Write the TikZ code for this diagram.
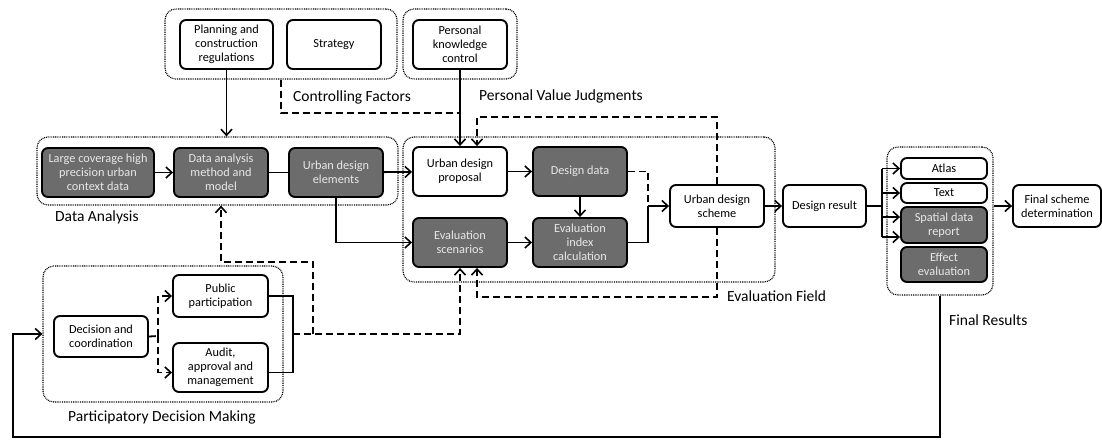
\documentclass[tikz,border=0pt]{standalone}
\usepackage{fontspec}
\setmainfont{Carlito}
\usetikzlibrary{arrows.meta,calc}
\definecolor{boxdark}{RGB}{108,108,108}
\definecolor{boxdarktext}{RGB}{232,232,232}
\tikzset{
  box/.style={draw=black, line width=1.9pt, rounded corners=6pt, align=center,
    inner sep=1pt, font=\fontsize{12.3}{14.2}\selectfont, fill=white},
  darkbox/.style={box, fill=boxdark, text=boxdarktext},
  grp/.style={draw=black, line width=1.2pt, dash pattern=on 0.9pt off 0.9pt,
    rounded corners=11pt},
  lbl/.style={anchor=west, inner sep=0pt, font=\fontsize{15.5}{18}\selectfont},
  tip/.style={-{Straight Barb[length=6pt,width=11pt,line width=1.6pt]}},
  ln/.style={line width=1.8pt},
  ar/.style={ln, tip},
  dsh/.style={line width=1.8pt, dash pattern=on 7pt off 4pt},
  dar/.style={dsh, tip},
}
\newcommand{\bx}[6][box]{\node[#1, minimum width=#4, minimum height=#5] (#2) at #3 {#6};}
\begin{document}
\begin{tikzpicture}[x=1pt,y=-1pt]
\useasboundingbox (0,0) rectangle (1102,439);
\fill[white] (0,0) rectangle (1102,439);

% dotted group frames
\node[grp, minimum width=232, minimum height=70] (cfg) at (281,44) {};
\node[grp, minimum width=114, minimum height=70] (pvg) at (460,44) {};
\node[grp, minimum width=361, minimum height=68] (dag) at (217.5,171) {};
\node[grp, minimum width=372, minimum height=145] (efg) at (589,209.5) {};
\node[grp, minimum width=106, minimum height=148] (frg) at (940,221) {};
\node[grp, minimum width=240, minimum height=136] (pdg) at (163,334) {};

% controlling factors and personal judgments
\bx{plan}{(226.5,44.5)}{93}{49}{Planning and\\construction\\regulations}
\bx{strat}{(334,44.5)}{94}{49}{Strategy}
\bx{pkc}{(460,44.5)}{94}{49}{Personal\\knowledge\\control}

% data analysis
\bx[darkbox]{large}{(98,172.5)}{112}{49}{Large coverage high\\precision urban\\context data}
\bx[darkbox]{dam}{(221,172.5)}{94}{49}{Data analysis\\method and\\model}
\bx[darkbox]{ude}{(336,172.5)}{94}{49}{Urban design\\elements}

% evaluation field
\bx{udp}{(460,171.5)}{94}{49}{Urban design\\proposal}
\bx[darkbox]{dd}{(580,171.5)}{94}{49}{Design data}
\bx[darkbox]{es}{(460,242.5)}{94}{49}{Evaluation\\scenarios}
\bx[darkbox]{eic}{(580,242.5)}{94}{49}{Evaluation\\index\\calculation}
\bx{uds}{(717,206)}{94}{42}{Urban design\\scheme}

% results
\bx{dr}{(824.5,206)}{83}{42}{Design result}
\bx{atlas}{(944,168.5)}{86}{21}{Atlas}
\bx{txt}{(944,193)}{86}{20}{Text}
\bx[darkbox]{sdr}{(944,225)}{86}{36}{Spatial data\\report}
\bx[darkbox]{ee}{(944,264.5)}{86}{35}{Effect\\evaluation}
\bx{fsd}{(1057,206)}{88}{42}{Final scheme\\determination}

% participatory decision making
\bx{dc}{(101,336.5)}{94}{41}{Decision and\\coordination}
\bx{pp}{(220.5,296)}{95}{42}{Public\\participation}
\bx{aam}{(220.5,367.5)}{95}{49}{Audit,\\approval and\\management}

% group captions
\node[lbl] (lcf) at (293,97) {Controlling Factors};
\node[lbl] (lpv) at (479,96) {Personal Value Judgments};
\node[lbl] (lda) at (55,217) {Data Analysis};
\node[lbl] (lef) at (727,296) {Evaluation Field};
\node[lbl] (lfr) at (949,320) {Final Results};
\node[lbl] (lpd) at (68,417) {Participatory Decision Making};

% junction points
\coordinate (cj) at (460,113);
\coordinate (sj) at (648,206);
\coordinate (ft) at (717,117);
\coordinate (fb) at (717,297);
\coordinate (br) at (882,206);
\coordinate (fbr) at (940,437);
\coordinate (fbl) at (13,437);
\coordinate (dj) at (158,336);
\coordinate (bj) at (293,334);
\coordinate (uj) at (313,334);
\coordinate (uk) at (221,262);

% solid connectors
\draw[ar] (plan.south) -- (plan.south |- dag.north);
\draw[ar] (pkc.south) -- (udp.north);
\draw[ar] (large) -- (dam);
\draw[ln] (dam) -- (ude);
\draw[ar] (ude) -- (udp);
\draw[ar] (ude.south) |- (es.west);
\draw[ar] (udp) -- (dd);
\draw[ar] (dd) -- (eic);
\draw[ar] (es) -- (eic);
\draw[ln] (eic.east) -| (sj);
\draw[ar] (sj) -- (uds.west);
\draw[ar] (uds) -- (dr);
\draw[ln] (dr.east) -- (br);
\draw[ln] (br |- atlas.west) -- ([yshift=-12pt]br |- sdr.west);
\draw[ar] (br |- atlas.west) -- (atlas.west);
\draw[ar] (br |- txt.west) -- (txt.west);
\draw[ar] ([yshift=8pt]br |- sdr.west) -- ([yshift=8pt]sdr.west);
\draw[ar] ([yshift=-12pt]br |- sdr.west) -- ([yshift=-12pt]sdr.west);
\draw[ar] (frg.east |- fsd.west) -- (fsd.west);
\draw[ar] (frg.south) -- (fbr) -- (fbl) |- (pdg.west);
\draw[ln] (pp.east) -| (bj) |- ([yshift=-5pt]aam.east);

% dashed connectors
\draw[dsh] (cfg.south) |- (cj);
\draw[dsh] (dd.east) -| (sj);
\draw[dar] (uds.north) -- (ft) -| ([xshift=17pt]udp.north);
\draw[dar] (uds.south) -- (fb) -| ([xshift=17pt]es.south);
\draw[dsh] (dc.east) -- (dj);
\draw[dar] (dj) |- (pp.west);
\draw[dar] (dj) |- ([yshift=-5pt]aam.west);
\draw[dar] (bj) -| (es.south);
\draw[dar] (uj) |- (uk) -- (dam.south |- dag.south);
\end{tikzpicture}
\end{document}
